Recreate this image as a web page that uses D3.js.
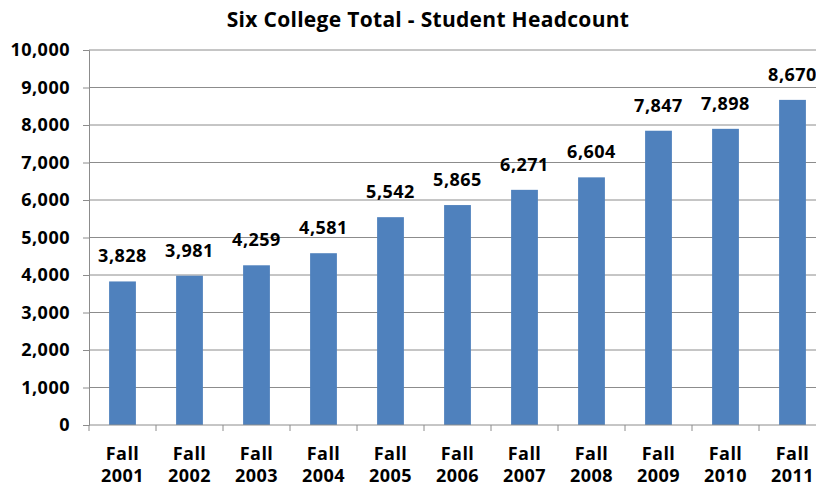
<!DOCTYPE html>
<html>
<head>
<meta charset="utf-8">
<script src="https://cdn.jsdelivr.net/npm/d3@7"></script>
<style>
  body { margin: 0; background: #fff; }
  text { font-family: "Open Sans", Lato, sans-serif; font-weight: bold; fill: #000; letter-spacing: 0.5px; }
</style>
</head>
<body>
<svg width="816" height="486"></svg>
<script>
var years = ["2001", "2002", "2003", "2004", "2005", "2006", "2007", "2008", "2009", "2010", "2011"];
var headcount = [3828, 3981, 4259, 4581, 5542, 5865, 6271, 6604, 7847, 7898, 8670];
var yTicks = [0, 1000, 2000, 3000, 4000, 5000, 6000, 7000, 8000, 9000, 10000];

var svg = d3.select("svg");
var plotLeft = 89, plotTop = 50, plotBottom = 425, step = 67;
var plotRight = plotLeft + step * years.length;

var x = d3.scaleBand().domain(years).range([plotLeft, plotRight]).paddingInner(0.6).paddingOuter(0.3);
var y = d3.scaleLinear().domain([0, 10000]).range([plotBottom, plotTop]);
var fmt = d3.format(",");

// gridlines
svg.append("g")
    .selectAll("line")
    .data(yTicks.filter(function (d) { return d > 0; }))
    .enter().append("line")
    .attr("x1", plotLeft).attr("x2", plotRight)
    .attr("y1", function (d) { return y(d); })
    .attr("y2", function (d) { return y(d); })
    .attr("stroke", "#8c8c8c").attr("stroke-width", 1);

// bars
svg.append("g")
    .selectAll("rect")
    .data(headcount)
    .enter().append("rect")
    .attr("x", function (d, i) { return x(years[i]); })
    .attr("y", function (d) { return y(d); })
    .attr("width", x.bandwidth())
    .attr("height", function (d) { return plotBottom - y(d); })
    .attr("fill", "#4f81bd");

// y axis
var yAxis = svg.append("g")
    .attr("transform", "translate(" + plotLeft + ",0)")
    .call(d3.axisLeft(y).tickValues(yTicks).tickFormat(fmt).tickSize(6).tickPadding(13));
yAxis.select(".domain").attr("stroke", "#8c8c8c");
yAxis.selectAll(".tick line").attr("stroke", "#8c8c8c");
yAxis.selectAll("text").style("font-size", "18px").style("font-family", null);

// x axis line and ticks
svg.append("line")
    .attr("x1", plotLeft).attr("x2", plotRight)
    .attr("y1", plotBottom).attr("y2", plotBottom)
    .attr("stroke", "#8c8c8c");
svg.append("g")
    .selectAll("line")
    .data(d3.range(years.length + 1))
    .enter().append("line")
    .attr("x1", function (i) { return plotLeft + i * step; })
    .attr("x2", function (i) { return plotLeft + i * step; })
    .attr("y1", plotBottom).attr("y2", plotBottom + 6)
    .attr("stroke", "#8c8c8c");

// x labels
var xl = svg.append("g")
    .selectAll("text")
    .data(years)
    .enter().append("text")
    .attr("text-anchor", "middle")
    .style("font-size", "18px");
xl.append("tspan").attr("x", function (d) { return x(d) + x.bandwidth() / 2; }).attr("y", 460).text("Fall");
xl.append("tspan").attr("x", function (d) { return x(d) + x.bandwidth() / 2; }).attr("y", 482).text(function (d) { return d; });

// value labels
svg.append("g")
    .selectAll("text")
    .data(headcount)
    .enter().append("text")
    .attr("text-anchor", "middle")
    .style("font-size", "18px")
    .attr("x", function (d, i) { return x(years[i]) + x.bandwidth() / 2; })
    .attr("y", function (d) { return y(d) - 19; })
    .text(fmt);

// title
svg.append("text")
    .attr("x", 428).attr("y", 27)
    .attr("text-anchor", "middle")
    .style("font-size", "21px")
    .style("letter-spacing", "0.3px")
    .text("Six College Total - Student Headcount");
</script>
</body>
</html>
